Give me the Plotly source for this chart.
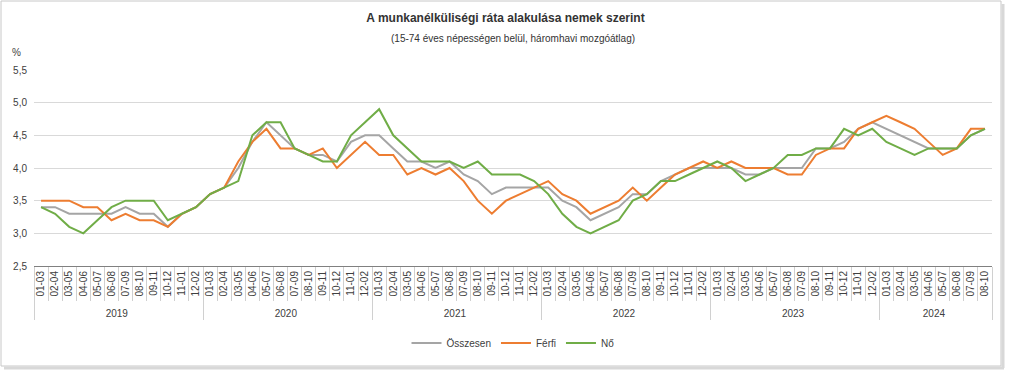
import plotly.graph_objects as go

years = ["2019", "2020", "2021", "2022", "2023", "2024"]
periods = ["01-03", "02-04", "03-05", "04-06", "05-07", "06-08",
           "07-09", "08-10", "09-11", "10-12", "11-01", "12-02"]
periods_2024 = periods[:8]

osszesen = [3.4, 3.4, 3.3, 3.3, 3.3, 3.3, 3.4, 3.3, 3.3, 3.1, 3.3, 3.4,
            3.6, 3.7, 4.0, 4.4, 4.7, 4.5, 4.3, 4.2, 4.2, 4.1, 4.4, 4.5,
            4.5, 4.3, 4.1, 4.1, 4.0, 4.1, 3.9, 3.8, 3.6, 3.7, 3.7, 3.7,
            3.7, 3.5, 3.4, 3.2, 3.3, 3.4, 3.6, 3.6, 3.8, 3.9, 4.0, 4.0,
            4.0, 4.0, 3.9, 3.9, 4.0, 4.0, 4.0, 4.3, 4.3, 4.4, 4.6, 4.7,
            4.6, 4.5, 4.4, 4.3, 4.3, 4.3, 4.5, 4.6]
ferfi = [3.5, 3.5, 3.5, 3.4, 3.4, 3.2, 3.3, 3.2, 3.2, 3.1, 3.3, 3.4,
         3.6, 3.7, 4.1, 4.4, 4.6, 4.3, 4.3, 4.2, 4.3, 4.0, 4.2, 4.4,
         4.2, 4.2, 3.9, 4.0, 3.9, 4.0, 3.8, 3.5, 3.3, 3.5, 3.6, 3.7,
         3.8, 3.6, 3.5, 3.3, 3.4, 3.5, 3.7, 3.5, 3.7, 3.9, 4.0, 4.1,
         4.0, 4.1, 4.0, 4.0, 4.0, 3.9, 3.9, 4.2, 4.3, 4.3, 4.6, 4.7,
         4.8, 4.7, 4.6, 4.4, 4.2, 4.3, 4.6, 4.6]
no = [3.4, 3.3, 3.1, 3.0, 3.2, 3.4, 3.5, 3.5, 3.5, 3.2, 3.3, 3.4,
      3.6, 3.7, 3.8, 4.5, 4.7, 4.7, 4.3, 4.2, 4.1, 4.1, 4.5, 4.7,
      4.9, 4.5, 4.3, 4.1, 4.1, 4.1, 4.0, 4.1, 3.9, 3.9, 3.9, 3.8,
      3.6, 3.3, 3.1, 3.0, 3.1, 3.2, 3.5, 3.6, 3.8, 3.8, 3.9, 4.0,
      4.1, 4.0, 3.8, 3.9, 4.0, 4.2, 4.2, 4.3, 4.3, 4.6, 4.5, 4.6,
      4.4, 4.3, 4.2, 4.3, 4.3, 4.3, 4.5, 4.6]

y_ticks = [2.5, 3.0, 3.5, 4.0, 4.5, 5.0, 5.5]

x_year = []
x_period = []
for yr in years:
    ps = periods_2024 if yr == "2024" else periods
    for p in ps:
        x_year.append(yr)
        x_period.append(p)

series = [("Összesen", osszesen, "#A5A5A5"),
          ("Férfi", ferfi, "#ED7D31"),
          ("Nő", no, "#70AD47")]

fig = go.Figure()
for name, vals, col in series:
    fig.add_trace(go.Scatter(
        x=[x_year, x_period], y=vals, name=name, mode="lines",
        line=dict(color=col, width=2),
    ))

W, H = 1011, 373
L, R, T, B = 34, 19, 70, 107
pw, ph = W - L - R, H - T - B


def px(x):
    return (x - L) / pw


def py(y):
    return (H - B - y) / ph


fig.update_layout(
    width=W, height=H,
    margin=dict(l=L, r=R, t=T, b=B),
    paper_bgcolor="white", plot_bgcolor="white",
    separators=", ",
    font=dict(family="Liberation Sans, Arial, sans-serif", size=10, color="#404040"),
    title=dict(text="<b>A munkanélküliségi ráta alakulása nemek szerint</b>",
               x=0.5, xanchor="center", y=1 - 18 / H, yanchor="middle",
               font=dict(size=12, color="#333333")),
    showlegend=True,
    legend=dict(orientation="h", x=0.5, xanchor="center", y=py(343), yanchor="middle",
                font=dict(size=10, color="#404040"), itemwidth=30),
    xaxis=dict(
        type="multicategory", tickangle=-90, showgrid=False,
        range=[-0.5, len(x_period) - 0.5],
        ticks="outside", tickson="boundaries", ticklen=34, tickcolor="#D0D0D0",
        showline=True, linecolor="#808080", linewidth=1,
        showdividers=True, dividercolor="#D0D0D0", dividerwidth=1,
        tickfont=dict(size=10, color="#404040"),
    ),
    yaxis=dict(
        range=[2.5, 5.5], tickvals=y_ticks, tickformat=".1f",
        showgrid=True, gridcolor="#D9D9D9", gridwidth=1,
        zeroline=False, showline=False, ticks="", ticklabelstandoff=6,
        tickfont=dict(size=10, color="#404040"),
    ),
    annotations=[
        dict(text="(15-74 éves népességen belül, háromhavi mozgóátlag)",
             xref="paper", yref="paper", x=0.5, y=py(38), xanchor="center",
             yanchor="middle", showarrow=False, font=dict(size=10, color="#333333")),
        dict(text="%", xref="paper", yref="paper", x=px(10), y=py(52),
             xanchor="left", yanchor="middle", showarrow=False,
             font=dict(size=10, color="#404040")),
    ],
    shapes=[
        dict(type="rect", xref="paper", yref="paper",
             x0=px(1), x1=px(1001), y0=py(366), y1=py(1),
             line=dict(color="#C8C8C8", width=1), layer="below"),
        dict(type="line", xref="paper", yref="paper",
             x0=px(1003), x1=px(1003), y0=py(368), y1=py(4),
             line=dict(color="#D8D8D8", width=3)),
        dict(type="line", xref="paper", yref="paper",
             x0=px(4), x1=px(1004), y0=py(368), y1=py(368),
             line=dict(color="#D8D8D8", width=3)),
    ],
)

fig.write_html("out.html", config={"displayModeBar": False},
               post_script="document.body.style.margin='0';document.body.style.overflow='hidden';")
